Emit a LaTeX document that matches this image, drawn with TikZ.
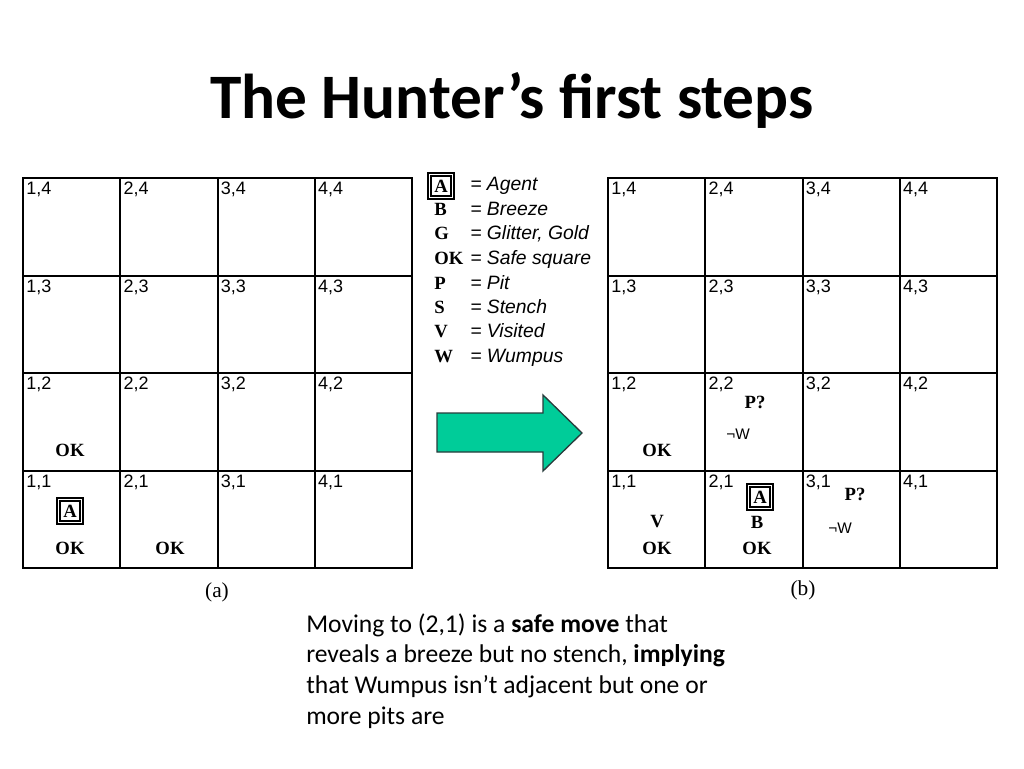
\documentclass[tikz,border=0pt]{standalone}
\usepackage{fontspec}
\setmainfont{Carlito}
\newfontfamily\cellf{Liberation Sans}
\newfontfamily\symf{Liberation Serif}
\begin{document}
\begin{tikzpicture}[x=0.75pt,y=-0.75pt,
  lbl/.style={anchor=north west,inner sep=0pt,font=\cellf\fontsize{13.5}{13.5}\selectfont},
  sym/.style={inner sep=0pt,font=\symf\bfseries\fontsize{14}{14}\selectfont},
  agent/.style={sym,draw,line width=1.4pt,minimum size=17pt,double,double distance=1pt},
  leg/.style={anchor=mid west,inner sep=0pt,font=\cellf\itshape\fontsize{14.5}{14.5}\selectfont},
  gridl/.style={line width=1.5pt}]
\useasboundingbox (0,0) rectangle (1024,768);
\node[font=\bfseries\fontsize{47.5}{47.5}\selectfont] (title) at (512,100) {The Hunter’s first steps};
% grids
\foreach \ox/\nm in {23/a,608/b}{
  \draw[gridl] (\ox,178) rectangle ++(389,390);
  \foreach \i in {1,2,3}{
    \draw[gridl] (\ox+\i*97.25,178) -- ++(0,390);
    \draw[gridl] (\ox,178+\i*97.5) -- ++(389,0);
  }
  \foreach \c in {1,...,4}{\foreach \r in {1,...,4}{
    \node[lbl] (\nm\c\r) at (\ox+3+97.25*\c-97.25,182+97.5*4-97.5*\r) {\c,\r};
  }}
}
% grid a
\node[sym] (aok12) at (70,450) {OK};
\node[agent] (aA) at (70,511) {A};
\node[sym] (aok11) at (70,548) {OK};
\node[sym] (aok21) at (170,548) {OK};
% grid b
\node[sym] (bok12) at (657,450) {OK};
\node[sym] (bV) at (657,522) {V};
\node[sym] (bok11) at (657,548) {OK};
\node[sym] (bP22) at (755,402) {P?};
\node[inner sep=0pt,font=\cellf\fontsize{11.5}{11.5}\selectfont] (bW22) at (738,434) {¬W};
\node[agent] (bA) at (760,497) {A};
\node[sym] (bB) at (757,522) {B};
\node[sym] (bok21) at (757,548) {OK};
\node[sym] (bP31) at (855,494) {P?};
\node[inner sep=0pt,font=\cellf\fontsize{11.5}{11.5}\selectfont] (bW31) at (840,528) {¬W};
% legend
\node[agent] (lA) at (441,186) {A};
\foreach \s/\t/\y in {B/Breeze/212,G/{Glitter, Gold}/236,OK/Safe square/261,P/Pit/286,S/Stench/310,V/Visited/334,W/Wumpus/359}{
  \node[sym,anchor=mid west] at (434,\y) {\s};
  \node[leg] at (470,\y) {= \t};
}
\node[leg] (lAt) at (470,187) {= Agent};
% arrow
\draw[fill={rgb,255:red,0;green,204;blue,153},line width=1pt,draw={rgb,255:red,40;green,60;blue,60}]
  (437,413) -- (543,413) -- (543,395) -- (582,433) -- (543,471) -- (543,452) -- (437,452) -- cycle;
% captions
\node[font=\symf\fontsize{16}{16}\selectfont] (capa) at (217,592) {(a)};
\node[font=\symf\fontsize{16}{16}\selectfont] (capb) at (803,590) {(b)};
\node[anchor=north west,align=left,inner sep=0pt,font=\fontsize{19.2}{23.2}\selectfont] (txt) at (306,613)
 {Moving to (2,1) is a \textbf{safe move} that\\reveals a breeze but no stench, \textbf{implying}\\that Wumpus isn’t adjacent but one or\\more pits are};
\end{tikzpicture}
\end{document}
